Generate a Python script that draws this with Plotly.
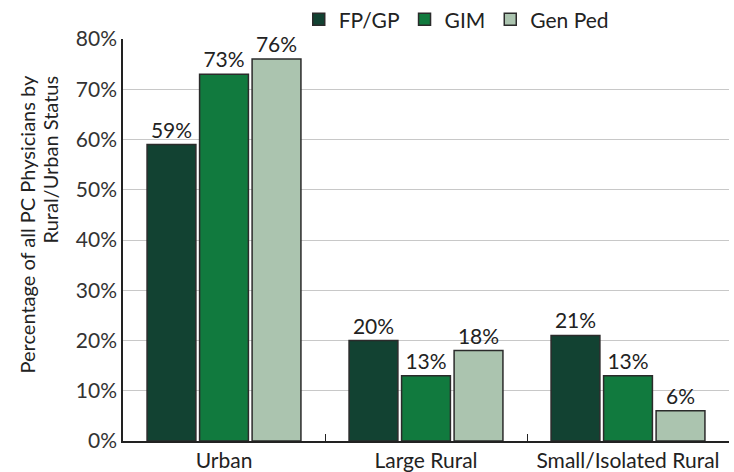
import plotly.graph_objects as go

categories = ["Urban", "Large Rural", "Small/Isolated Rural"]
fp_gp = [59, 20, 21]
gim = [73, 13, 13]
gen_ped = [76, 18, 6]
y_ticks = [0, 10, 20, 30, 40, 50, 60, 70, 80]
y_title = ["Percentage of all PC Physicians by", "Rural/Urban Status"]

series = [
    ("FP/GP", fp_gp, "#124232"),
    ("GIM", gim, "#117a3e"),
    ("Gen Ped", gen_ped, "#abc4af"),
]

fig = go.Figure()
for name, vals, col in series:
    fig.add_trace(go.Bar(
        x=categories, y=vals, name=name,
        marker=dict(color=col, line=dict(color="#2b2b2b", width=1.5)),
        text=[f"{v}%" for v in vals], textposition="outside",
        textfont=dict(size=21, color="#222"), cliponaxis=False,
    ))

fig.update_layout(
    width=734, height=472,
    margin=dict(l=123, r=5, t=39, b=31, autoexpand=False),
    plot_bgcolor="white", paper_bgcolor="white",
    font=dict(family="Lato, sans-serif", color="#333"),
    barmode="group", bargap=0.22, bargroupgap=0.07,
    legend=dict(orientation="h", x=0.29, y=1.048, xanchor="left", yanchor="middle",
                font=dict(size=21, color="#222"), itemwidth=30, traceorder="normal"),
)
fig.update_xaxes(
    showline=True, linecolor="#222", linewidth=1.5,
    ticks="inside", tickson="boundaries", ticklen=7, tickcolor="#222",
    tickfont=dict(size=21, color="#222"), automargin=False,
)
fig.update_yaxes(
    range=[0, 80], tickvals=y_ticks, ticktext=[f"{v}%" for v in y_ticks],
    showline=True, linecolor="#222", linewidth=1.5,
    showgrid=True, gridcolor="#c8c8c8", gridwidth=1.2,
    tickfont=dict(size=21, color="#333"), automargin=False,
)

# y title: two rotated lines, both ending at the same height like the original
for line, xpos in zip(y_title, [-0.158, -0.12]):
    fig.add_annotation(
        text=line, xref="paper", yref="paper", x=xpos, y=0.915,
        xanchor="center", yanchor="top", textangle=-90, showarrow=False,
        font=dict(size=20, color="#222"),
    )

# page body has a default margin, drop it so the figure sits at 0,0
fig.write_html("out.html", config={"displayModeBar": False},
               post_script="document.body.style.margin='0';")
